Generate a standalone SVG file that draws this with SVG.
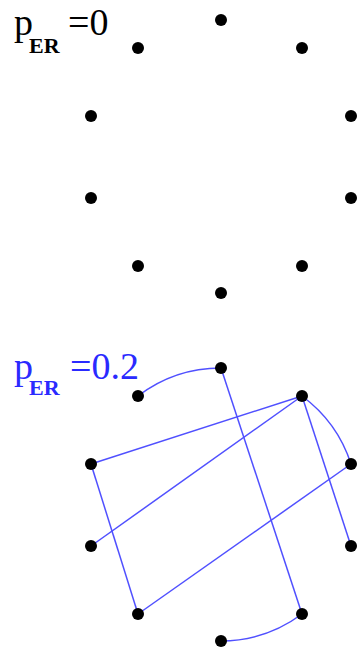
<svg xmlns="http://www.w3.org/2000/svg" width="360" height="651" viewBox="0 0 360 651">
<style>
.node{fill:#000}
.edge{fill:none;stroke:#5050ff;stroke-width:1.5}
.lbl{font-family:"Liberation Serif",serif;font-size:38px}
.sub{font-family:"Liberation Serif",serif;font-size:22px;font-weight:bold}
</style>
<rect width="360" height="651" fill="#fff"/>
<g id="label-top">
<text class="lbl" x="14" y="35">p</text>
<text class="sub" x="29" y="53">ER</text>
<text class="lbl" x="68" y="35">=0</text>
</g>
<g id="label-bottom" fill="#2a2aff">
<text class="lbl" x="14" y="379">p</text>
<text class="sub" x="29" y="395">ER</text>
<text class="lbl" x="70" y="379">=0.2</text>
</g>
<g id="top-graph">
<circle id="t0" class="node" cx="221" cy="20" r="6"/>
<circle id="t1" class="node" cx="302" cy="48" r="6"/>
<circle id="t2" class="node" cx="351" cy="116" r="6"/>
<circle id="t3" class="node" cx="351" cy="198" r="6"/>
<circle id="t4" class="node" cx="302" cy="266" r="6"/>
<circle id="t5" class="node" cx="221" cy="293" r="6"/>
<circle id="t6" class="node" cx="138" cy="266" r="6"/>
<circle id="t7" class="node" cx="91" cy="198" r="6"/>
<circle id="t8" class="node" cx="91" cy="116" r="6"/>
<circle id="t9" class="node" cx="138" cy="48" r="6"/>
</g>
<g id="connectors">
<path class="edge" d="M138 396 A137 137 0 0 1 221 368"/>
<path class="edge" d="M302 396 A137 137 0 0 1 351 464"/>
<path class="edge" d="M302 614 A137 137 0 0 1 221 641"/>
<line class="edge" x1="221" y1="368" x2="302" y2="614"/>
<line class="edge" x1="302" y1="396" x2="91" y2="464"/>
<line class="edge" x1="302" y1="396" x2="91" y2="546"/>
<line class="edge" x1="302" y1="396" x2="351" y2="546"/>
<line class="edge" x1="91" y1="464" x2="138" y2="614"/>
<line class="edge" x1="138" y1="614" x2="351" y2="464"/>
</g>
<g id="bottom-graph">
<circle id="b0" class="node" cx="221" cy="368" r="6"/>
<circle id="b1" class="node" cx="302" cy="396" r="6"/>
<circle id="b2" class="node" cx="351" cy="464" r="6"/>
<circle id="b3" class="node" cx="351" cy="546" r="6"/>
<circle id="b4" class="node" cx="302" cy="614" r="6"/>
<circle id="b5" class="node" cx="221" cy="641" r="6"/>
<circle id="b6" class="node" cx="138" cy="614" r="6"/>
<circle id="b7" class="node" cx="91" cy="546" r="6"/>
<circle id="b8" class="node" cx="91" cy="464" r="6"/>
<circle id="b9" class="node" cx="138" cy="396" r="6"/>
</g>
</svg>
